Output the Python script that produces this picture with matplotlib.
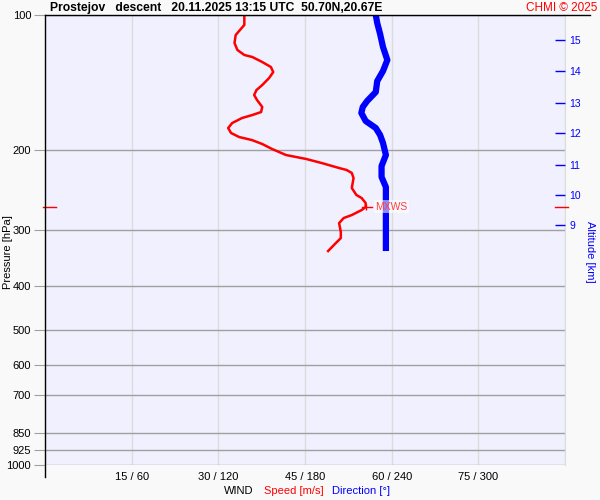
import numpy as np
import matplotlib
matplotlib.use("Agg")
import matplotlib.pyplot as plt
from matplotlib.lines import Line2D
from matplotlib.ticker import NullLocator, FixedLocator, FixedFormatter

plt.rcParams['font.family'] = ['Liberation Sans', 'DejaVu Sans']

# -------------------------------------------------------------------
# data
# -------------------------------------------------------------------
speed_p = [100.0, 105.2, 110.8, 115.4, 119.6, 122.7, 124.0, 127.2, 130.5, 133.9,
           138.0, 143.1, 146.8, 150.6, 154.5, 160.1, 164.3, 166.8, 169.4, 173.8,
           178.3, 182.9, 186.7, 189.6, 193.5, 198.5, 204.7, 208.9, 213.3, 218.8,
           221.0, 224.4, 230.3, 242.4, 251.2, 255.1, 261.7, 267.1, 271.3, 278.3,
           282.6, 290.0, 303.6, 313.1, 324.5, 334.6]
speed = [34.5, 34.5, 33.0, 32.8, 33.3, 34.5, 35.9, 37.6, 39.1, 39.5,
         38.8, 37.6, 36.6, 36.2, 36.7, 37.6, 37.4, 35.9, 34.1, 32.4,
         31.7, 32.2, 33.6, 35.8, 37.6, 39.3, 41.7, 45.2, 47.9, 50.9,
         52.2, 53.1, 53.4, 53.1, 53.9, 54.8, 55.5, 55.5, 54.8, 53.1,
         51.7, 50.9, 51.2, 51.2, 50.0, 49.0]

dir_p = [100.0, 104.2, 110.2, 117.8, 125.9, 133.2, 140.2, 148.3, 155.3, 160.1,
         165.1, 172.0, 178.3, 184.8, 192.5, 204.7, 216.6, 229.1, 241.2, 253.8,
         275.4, 300.5, 334.6]
direction = [229, 230, 232, 234, 237, 234, 230, 229, 223, 220,
             219, 222, 229, 232, 234, 236, 233, 233, 236, 236,
             236, 236, 236]

mxws_p = 266.5
mxws_speed = 55.5

p_ticks = [100, 200, 300, 400, 500, 600, 700, 850, 925, 1000]
speed_ticks = [15, 30, 45, 60, 75, 90]
dir_ticks = [60, 120, 180, 240, 300, 360]

alt_km = [9, 10, 11, 12, 13, 14, 15]
alt_p = [292.6, 250.7, 215.4, 182.9, 156.6, 133.2, 113.6]

# -------------------------------------------------------------------
# axes: speed (main), direction (twiny), altitude (twinx)
# -------------------------------------------------------------------
fig = plt.figure(figsize=(6, 5), dpi=100, facecolor='#f9f9f9')
ax = fig.add_axes([45 / 600, 35 / 500, 520 / 600, 450 / 500], facecolor='#f0f0ff')
axd = ax.twiny()
axa = ax.twinx()

ax.set_yscale('log')
ax.set_ylim(1000, 100)
ax.set_xlim(0, 90)
axd.set_xlim(0, 360)
axa.set_yscale('log')
axa.set_ylim(1000, 100)

# pressure axis
ax.yaxis.set_major_locator(FixedLocator(p_ticks))
ax.yaxis.set_major_formatter(FixedFormatter([str(v) for v in p_ticks]))
ax.yaxis.set_minor_locator(NullLocator())
ax.tick_params(axis='y', length=8, color='#a0a0a0', labelsize=8, pad=2)

# wind axis
ax.xaxis.set_major_locator(FixedLocator(speed_ticks))
ax.xaxis.set_major_formatter(FixedFormatter(
    [f"{s} / {d}" if s < 90 else "" for s, d in zip(speed_ticks, dir_ticks)]))
ax.tick_params(axis='x', length=0, labelsize=8, pad=5)
axd.set_xticks([])

ax.xaxis.grid(True, color='#dcdcdc', lw=1)
ax.yaxis.grid(True, color='#a0a0a0', lw=1)
ax.set_axisbelow(True)
for side in ['top', 'bottom', 'left']:
    ax.spines[side].set_visible(False)
ax.spines['right'].set_color('#dcdcdc')
for s in list(axd.spines.values()) + list(axa.spines.values()):
    s.set_visible(False)

# altitude axis
axa.yaxis.set_major_locator(FixedLocator(alt_p))
axa.yaxis.set_major_formatter(FixedFormatter([str(k) for k in alt_km]))
axa.yaxis.set_minor_locator(NullLocator())
axa.tick_params(axis='y', direction='in', length=7, width=1, colors='blue',
                labelsize=7.5, pad=3)
axa.set_ylabel("Altitude [km]", color='blue', fontsize=8, rotation=-90)
axa.yaxis.set_label_coords(1.058, 0.473)

ax.set_ylabel("Pressure [hPa]", fontsize=8)
ax.yaxis.set_label_coords(-0.0615, 0.473)

# speed (red) and direction (blue)
ax.plot(speed, speed_p, color='red', lw=1.8, solid_joinstyle='round', zorder=3)
axd.plot(direction, dir_p, color='blue', lw=4.5, solid_capstyle='butt',
         solid_joinstyle='round', zorder=2)

# max wind marker, drawn on the top axes so it sits over both lines
axa.plot([mxws_speed - 0.7, mxws_speed + 1.1], [mxws_p, mxws_p], color='red', lw=1,
         transform=ax.transData, zorder=4)
axa.plot([mxws_speed], [mxws_p], marker='|', ms=5, color='red', mew=1,
         transform=ax.transData, zorder=4)
axa.text(mxws_speed + 1.7, mxws_p, "MXWS", color='#ff4040', fontsize=7.5, va='center',
         ha='left', zorder=5, transform=ax.transData,
         bbox=dict(facecolor='white', alpha=0.55, edgecolor='none', pad=1))
trans = ax.get_yaxis_transform()
axa.plot([-0.004, 0.021], [mxws_p, mxws_p], color='red', lw=1, transform=trans, clip_on=False)
axa.plot([0.981, 1.006], [mxws_p, mxws_p], color='red', lw=1, transform=trans, clip_on=False)

# frame lines
fig.add_artist(Line2D([45 / 600, 590 / 600], [1 - 15 / 500, 1 - 15 / 500], color='black', lw=1))
fig.add_artist(Line2D([45 / 600, 45 / 600], [1 - 15 / 500, 1 - 477 / 500], color='black', lw=1))

# titles
fig.text(50 / 600, 1 - 8 / 500, "Prostejov   descent   20.11.2025 13:15 UTC  50.70N,20.67E",
         fontsize=8.7, fontweight='bold', va='center', ha='left')
fig.text(597 / 600, 1 - 8 / 500, "CHMI © 2025", color='red', fontsize=8.5,
         va='center', ha='right')

fig.text(253 / 600, 1 - 491 / 500, "WIND", fontsize=8, ha='right', va='center')
fig.text(264 / 600, 1 - 491 / 500, "Speed [m/s]", color='red', fontsize=8, ha='left', va='center')
fig.text(332 / 600, 1 - 491 / 500, "Direction [°]", color='blue', fontsize=8, ha='left', va='center')

fig.savefig("out.png", dpi=100, facecolor=fig.get_facecolor())
